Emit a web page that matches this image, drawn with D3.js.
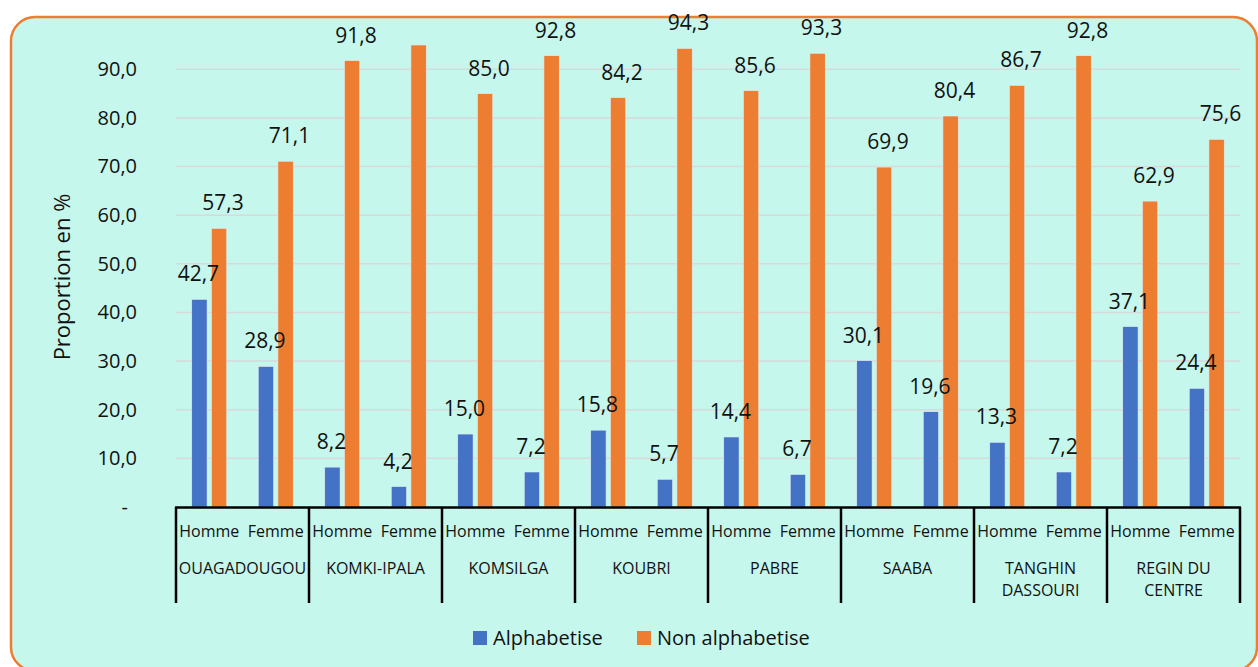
<!DOCTYPE html>
<html lang="fr">
<head>
  <meta charset="UTF-8">
  <title>Alphabetisation par commune</title>
  <script src="https://d3js.org/d3.v7.min.js"></script>
  <style>
    body {
      margin: 0;
      background: #ffffff;
      font-family: "Open Sans", "Noto Sans", sans-serif;
    }
    svg {
      display: block;
    }
  </style>
</head>
<body>
  <svg width="1258" height="667"></svg>

  <script>
    const groups = [`OUAGADOUGOU`, `KOMKI-IPALA`, `KOMSILGA`, `KOUBRI`, `PABRE`, `SAABA`, `TANGHIN DASSOURI`, `REGIN DU CENTRE`];
    const sexes = [`Homme`, `Femme`];
    const series = [`Alphabetise`, `Non alphabetise`];

    // values in the order: Homme, Femme for each group
    const alphabetise = [42.7, 28.9, 8.2, 4.2, 15.0, 7.2, 15.8, 5.7, 14.4, 6.7, 30.1, 19.6, 13.3, 7.2, 37.1, 24.4];
    const nonAlphabetise = [57.3, 71.1, 91.8, 95.8, 85.0, 92.8, 84.2, 94.3, 85.6, 93.3, 69.9, 80.4, 86.7, 92.8, 62.9, 75.6];

    const yTicks = [0, 10, 20, 30, 40, 50, 60, 70, 80, 90];
    const yMaxAxis = 95;

    const colors = {[`Alphabetise`]: `#4472C4`, [`Non alphabetise`]: `#ED7D31`};

    const plot = {left: 176, right: 1240, top: 45, bottom: 507};

    const rows = [];
    groups.forEach((g, gi) => {
      sexes.forEach((s, si) => {
        const i = gi * 2 + si;
        rows.push({group: g, sex: s, serie: series[0], value: alphabetise[i]});
        rows.push({group: g, sex: s, serie: series[1], value: nonAlphabetise[i]});
      });
    });

    const svg = d3.select(`svg`);

    // frame
    svg.append(`rect`)
      .attr(`x`, 11)
      .attr(`y`, 17)
      .attr(`width`, 1246)
      .attr(`height`, 654)
      .attr(`rx`, 24)
      .attr(`fill`, `#C6F7EC`)
      .attr(`stroke`, `#ED7D31`)
      .attr(`stroke-width`, 2.5);

    const xGroup = d3.scaleBand()
      .domain(groups)
      .range([plot.left, plot.right]);

    const xSex = d3.scaleBand()
      .domain(sexes)
      .range([0, xGroup.bandwidth()]);

    const xSerie = d3.scaleBand()
      .domain(series)
      .range([-17.5, 17.5])
      .paddingInner(0.22);

    const yScale = d3.scaleLinear()
      .domain([0, yMaxAxis])
      .range([plot.bottom, plot.top])
      .clamp(true);

    const fmt = v => v === 0 ? `-` : d3.format(`.1f`)(v).replace(`.`, `,`);

    // gridlines
    svg.append(`g`)
      .selectAll(`line`)
      .data(yTicks.filter(d => d > 0))
      .enter()
      .append(`line`)
      .attr(`x1`, plot.left)
      .attr(`x2`, plot.right)
      .attr(`y1`, d => yScale(d))
      .attr(`y2`, d => yScale(d))
      .attr(`stroke`, `#D9D9D9`)
      .attr(`stroke-width`, 1.5);

    // y axis labels
    const yAxis = d3.axisLeft(yScale)
      .tickValues(yTicks)
      .tickFormat(fmt)
      .tickSize(0)
      .tickPadding(0);

    const yAxisG = svg.append(`g`)
      .attr(`transform`, `translate(137, 0)`)
      .call(yAxis);
    yAxisG.select(`.domain`).remove();
    yAxisG.selectAll(`text`)
      .attr(`font-family`, `"Open Sans", sans-serif`)
      .attr(`font-size`, 20)
      .attr(`fill`, `#111`);
    yAxisG.selectAll(`.tick`).filter(d => d === 0).select(`text`)
      .attr(`x`, -9);

    svg.append(`text`)
      .attr(`transform`, `translate(70, 277) rotate(-90)`)
      .attr(`text-anchor`, `middle`)
      .attr(`font-size`, 22)
      .attr(`fill`, `#111`)
      .text(`Proportion en %`);

    const barX = d => xGroup(d.group) + xSex(d.sex) + xSex.bandwidth() / 2 + xSerie(d.serie);

    // bars
    svg.append(`g`)
      .selectAll(`rect`)
      .data(rows)
      .enter()
      .append(`rect`)
      .attr(`x`, barX)
      .attr(`y`, d => yScale(d.value))
      .attr(`width`, xSerie.bandwidth())
      .attr(`height`, d => plot.bottom - yScale(d.value))
      .attr(`fill`, d => colors[d.serie])
      .attr(`stroke`, `#dfeff5`)
      .attr(`stroke-width`, 0.6);

    // value labels (values beyond the axis maximum are not labelled)
    svg.append(`g`)
      .selectAll(`text`)
      .data(rows.filter(d => d.value <= yMaxAxis))
      .enter()
      .append(`text`)
      .attr(`x`, d => barX(d) + xSerie.bandwidth() / 2 + (d.serie === series[0] ? -1 : 4))
      .attr(`y`, d => yScale(d.value) - 18)
      .attr(`text-anchor`, `middle`)
      .attr(`font-size`, 21)
      .attr(`fill`, `#111`)
      .text(d => fmt(d.value));

    // category axis
    const axisG = svg.append(`g`);

    axisG.append(`line`)
      .attr(`x1`, plot.left - 1)
      .attr(`x2`, plot.right + 1)
      .attr(`y1`, plot.bottom + 0.5)
      .attr(`y2`, plot.bottom + 0.5)
      .attr(`stroke`, `#000`)
      .attr(`stroke-width`, 2.5);

    axisG.selectAll(`.sep`)
      .data(groups.map(g => xGroup(g)).concat([plot.right]))
      .enter()
      .append(`line`)
      .attr(`class`, `sep`)
      .attr(`x1`, d => d)
      .attr(`x2`, d => d)
      .attr(`y1`, plot.bottom)
      .attr(`y2`, 603)
      .attr(`stroke`, `#000`)
      .attr(`stroke-width`, 2.5);

    axisG.selectAll(`.sex`)
      .data(d3.cross(groups, sexes))
      .enter()
      .append(`text`)
      .attr(`class`, `sex`)
      .attr(`x`, d => xGroup(d[0]) + xSex(d[1]) + xSex.bandwidth() / 2)
      .attr(`y`, 537)
      .attr(`text-anchor`, `middle`)
      .attr(`font-size`, 16)
      .attr(`fill`, `#111`)
      .text(d => d[1]);

    const groupText = axisG.selectAll(`.grp`)
      .data(groups)
      .enter()
      .append(`text`)
      .attr(`class`, `grp`)
      .attr(`x`, d => xGroup(d) + xGroup.bandwidth() / 2)
      .attr(`y`, 574)
      .attr(`text-anchor`, `middle`)
      .attr(`font-size`, 16)
      .attr(`fill`, `#111`);

    // simple word wrap inside each group band
    groupText.each(function (d) {
      const el = d3.select(this);
      const words = d.split(` `);
      let line = [];
      let tspan = el.append(`tspan`).attr(`x`, el.attr(`x`)).attr(`dy`, 0);
      words.forEach(w => {
        line.push(w);
        tspan.text(line.join(` `));
        if (tspan.node().getComputedTextLength() > 115 && line.length > 1) {
          line.pop();
          tspan.text(line.join(` `));
          line = [w];
          tspan = el.append(`tspan`).attr(`x`, el.attr(`x`)).attr(`dy`, 22).text(w);
        }
      });
    });

    // legend
    const legend = svg.append(`g`);
    const legendX = [473, 637];
    series.forEach((s, i) => {
      legend.append(`rect`)
        .attr(`x`, legendX[i])
        .attr(`y`, 631)
        .attr(`width`, 14)
        .attr(`height`, 14)
        .attr(`fill`, colors[s]);
      legend.append(`text`)
        .attr(`x`, legendX[i] + 20)
        .attr(`y`, 645)
        .attr(`font-size`, 20)
        .attr(`fill`, `#111`)
        .text(s);
    });
  </script>
</body>
</html>
